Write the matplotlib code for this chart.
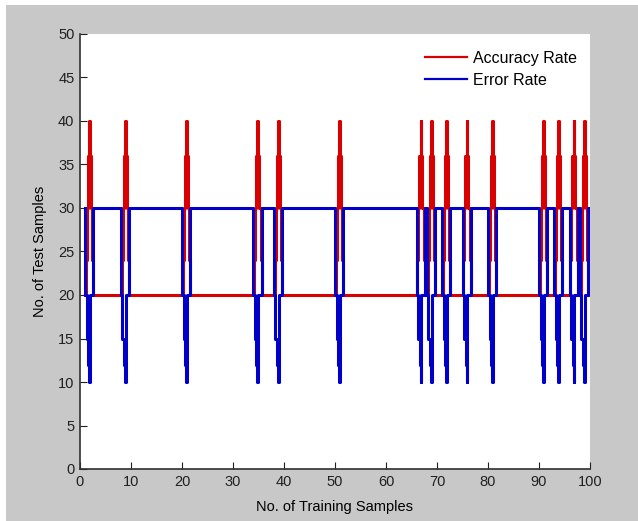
import numpy as np
import matplotlib
matplotlib.use("Agg")
from matplotlib import pyplot as plt
from matplotlib.patches import Rectangle

plt.rcParams['font.family'] = ['Liberation Sans', 'DejaVu Sans']

# x positions (No. of Training Samples) where each spike begins
spike_starts = [1, 8, 20, 34, 38, 50, 66, 68, 71, 75, 80, 90, 93, 96, 98]

# shape of one spike (stairs)
acc_base = 20
acc_dx = [0.15, 0.35, 0.55, 0.80, 0.95, 1.15, 1.40, 1.60]
acc_val = [24, 30, 36, 40, 36, 30, 24, 20]

err_base = 30
err_dx = [0.0, 0.30, 0.60, 0.80, 0.95, 1.60]
err_val = [20, 15, 12, 10, 20, 30]

x_end = 100


def build(base, dx, val):
    xs = [spike_starts[0]]
    ys = [base]
    for s in spike_starts:
        for d, v in zip(dx, val):
            xs.append(s + d)
            ys.append(v)
    xs.append(x_end)
    ys.append(base)
    return np.array(xs), np.array(ys)


xa, ya = build(acc_base, acc_dx, acc_val)
xe, ye = build(err_base, err_dx, err_val)

fig = plt.figure(figsize=(6.38, 5.21), dpi=100, facecolor='white')
# grey MATLAB window background
fig.patches.append(Rectangle((6/638, 0), 1, 1 - 5/521, transform=fig.transFigure,
                             facecolor='#c8c8c8', edgecolor='none', zorder=-10))

ax = fig.add_axes([80/638, 52/521, 510/638, 435/521])
ax.set_facecolor('white')

ax.plot(xa, ya, drawstyle='steps-post', color='#d80000', lw=2.2, label='Accuracy Rate')
ax.plot(xe, ye, drawstyle='steps-post', color='#0000c8', lw=2.2, label='Error Rate')

ax.set_xlim(0, 100)
ax.set_ylim(0, 50)
ax.set_xticks(np.arange(0, 101, 10))
ax.set_yticks(np.arange(0, 51, 5))
ax.tick_params(direction='in', length=5, labelsize=10.5, colors='#202020', pad=4)
for side in ['top', 'right']:
    ax.spines[side].set_visible(False)
for side in ['left', 'bottom']:
    ax.spines[side].set_color('#303030')
    ax.spines[side].set_linewidth(1.2)

ax.set_xlabel("No. of Training Samples", fontsize=10.5, labelpad=8)
ax.set_ylabel("No. of Test Samples", fontsize=10.5, labelpad=8)

leg = ax.legend(loc='upper right', bbox_to_anchor=(0.99, 0.98), frameon=False,
                fontsize=11.5, handlelength=2.6, handletextpad=0.4, labelspacing=0.45,
                borderpad=0)
for ln in leg.get_lines():
    ln.set_linewidth(1.6)

fig.savefig("out.png", dpi=100, facecolor=fig.get_facecolor())
